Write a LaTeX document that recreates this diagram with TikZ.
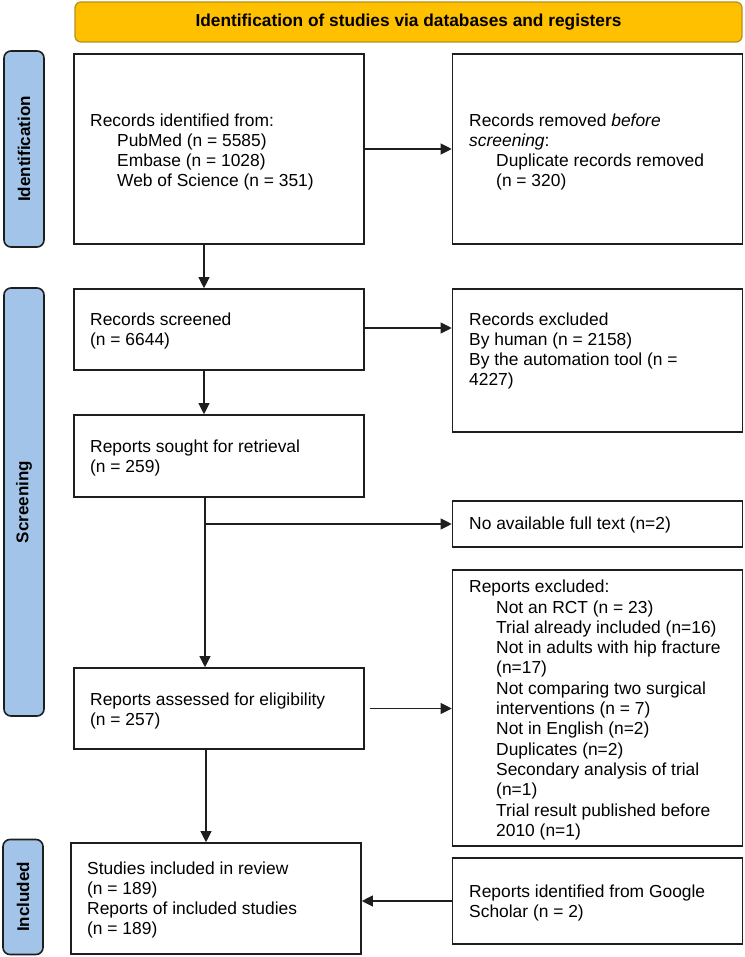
\documentclass[tikz,border=0pt]{standalone}
\usepackage{fontspec}
\setmainfont{Liberation Sans}
\usetikzlibrary{arrows.meta}
\definecolor{bannerfill}{HTML}{FFC000}
\definecolor{bannerline}{HTML}{B8921E}
\definecolor{stagefill}{HTML}{A2C4E8}
\definecolor{boxline}{HTML}{1E1E1E}
\tikzset{
  box/.style={draw=boxline, line width=1.6pt, fill=white, rectangle, inner sep=0pt, minimum width=290pt},
  txt/.style={anchor=west, align=left, inner sep=0pt, font=\fontsize{17.4}{20.3}\selectfont},
  stage/.style={draw=boxline, line width=1.6pt, fill=stagefill, rounded corners=7pt, minimum width=40pt, inner sep=0pt},
  stagetxt/.style={rotate=90, font=\bfseries\fontsize{17}{20}\selectfont},
  banner/.style={draw=bannerline, line width=1.3pt, fill=bannerfill, rounded corners=6pt, minimum width=667pt, minimum height=40pt, inner sep=0pt, font=\bfseries\fontsize{17.3}{20}\selectfont},
  arr/.style={draw=boxline, line width=1.1pt, -{Triangle[length=11pt,width=11pt]}}
}
\newcommand{\ind}{\hspace*{27pt}}
\begin{document}
\begin{tikzpicture}[x=1pt,y=-1pt]
\useasboundingbox (0,0) rectangle (744,957);
% banner
\node[banner] (ban) at (408.5,22) {Identification of studies via databases and registers};
% stage labels
\node[stage, minimum height=196pt] (idl) at (24,149) {};
\node[stagetxt] at (idl.center) {Identification};
\node[stage, minimum height=428pt] (scl) at (24,502) {};
\node[stagetxt] at (scl.center) {Screening};
\node[stage, minimum height=115pt] (incl) at (23,897) {};
\node[stagetxt] at (incl.center) {Included};
% boxes
\node[box, minimum height=190pt] (id1) at (219,149) {};
\node[box, minimum height=190pt] (rm) at (597.5,149) {};
\node[box, minimum height=81pt] (scr) at (219,329.5) {};
\node[box, minimum height=143pt] (exc) at (597.5,360.5) {};
\node[box, minimum height=82pt] (sou) at (219,456) {};
\node[box, minimum height=46pt] (na) at (597.5,524) {};
\node[box, minimum height=276pt] (rex) at (597.5,708) {};
\node[box, minimum height=81pt] (ass) at (219,708.5) {};
\node[box, minimum height=111pt] (inc) at (216,898.5) {};
\node[box, minimum height=86pt] (gs) at (597.5,901) {};
% texts
\node[txt] at (90,152) {Records identified from:\\ \ind PubMed (n = 5585)\\ \ind Embase (n = 1028)\\ \ind Web of Science (n = 351)};
\node[txt] at (469,152) {Records removed \emph{before}\\ \emph{screening}:\\ \ind Duplicate records removed\\ \ind (n = 320)};
\node[txt] at (90,331) {Records screened\\ (n = 6644)};
\node[txt] at (469,351) {Records excluded\\ By human (n = 2158)\\ By the automation tool (n =\\ 4227)};
\node[txt] at (90,458) {Reports sought for retrieval\\ (n = 259)};
\node[txt] at (469,525) {No available full text (n=2)};
\node[txt] at (469,710) {Reports excluded:\\ \ind Not an RCT (n = 23)\\ \ind Trial already included (n=16)\\ \ind Not in adults with hip fracture\\ \ind (n=17)\\ \ind Not comparing two surgical\\ \ind interventions (n = 7)\\ \ind Not in English (n=2)\\ \ind Duplicates (n=2)\\ \ind Secondary analysis of trial\\ \ind (n=1)\\ \ind Trial result published before\\ \ind 2010 (n=1)};
\node[txt] at (90,711) {Reports assessed for eligibility\\ (n = 257)};
\node[txt] at (87,900) {Studies included in review\\ (n = 189)\\ Reports of included studies\\ (n = 189)};
\node[txt] at (469,903) {Reports identified from Google\\ Scholar (n = 2)};
% connectors
\draw[arr] (id1.east) -- (rm.west);
\draw[arr] ([xshift=-15pt]id1.south) -- ([xshift=-15pt]scr.north);
\draw[arr] ([yshift=1.5pt]scr.east) -- ([yshift=1.5pt]scr.east -| exc.west);
\draw[arr] ([xshift=-15pt]scr.south) -- ([xshift=-15pt]sou.north);
\coordinate (br) at ([xshift=-14pt]sou.south |- na.west);
\draw[arr] ([xshift=-14pt]sou.south) -- ([xshift=-14pt]ass.north);
\draw[arr] (br) -- (na.west);
\draw[arr] ([xshift=5pt]ass.east) -- (ass.east -| rex.west);
\draw[arr] ([xshift=-13pt]ass.south) -- ([xshift=-13pt]ass.south |- inc.north);
\draw[arr] (gs.west) -- (gs.west -| inc.east);
\end{tikzpicture}
\end{document}
